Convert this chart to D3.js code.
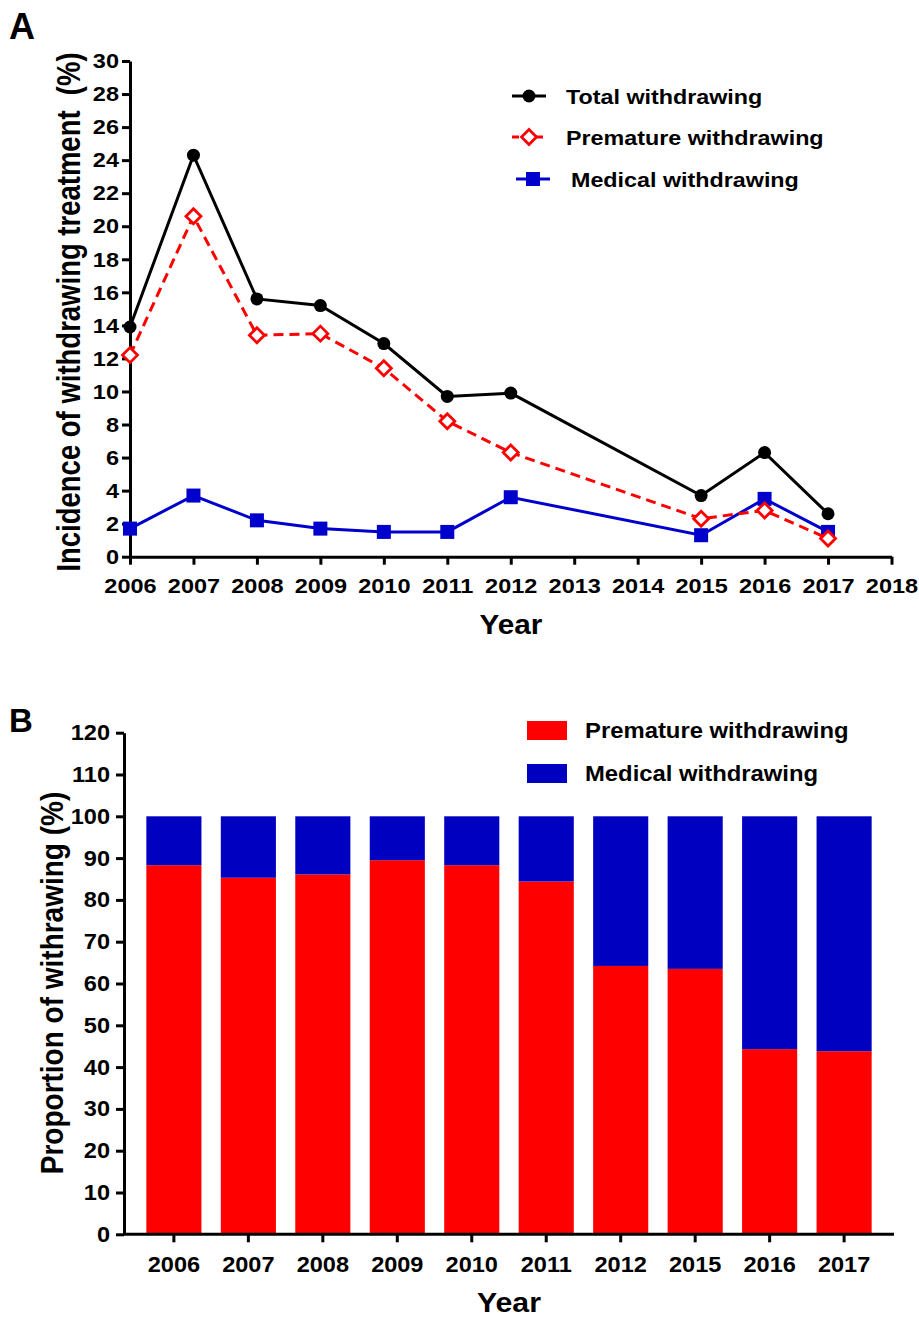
<!DOCTYPE html>
<html>
<head>
<meta charset="utf-8">
<script src="https://cdn.jsdelivr.net/npm/d3@7"></script>
<style>
  body { margin: 0; background: #fff; }
  svg text { font-family: "Liberation Sans", Arial, sans-serif; font-weight: bold; fill: #000; white-space: pre; }
</style>
</head>
<body>
<svg id="chart" width="919" height="1323"></svg>
<script>
// panel A data (incidence, %)
const yearsA = [2006, 2007, 2008, 2009, 2010, 2011, 2012, 2015, 2016, 2017];
const totalW = [13.9, 24.3, 15.6, 15.2, 12.9, 9.7, 9.9, 3.7, 6.3, 2.6];
const prematureW = [12.2, 20.6, 13.4, 13.5, 11.4, 8.2, 6.3, 2.3, 2.8, 1.1];
const medicalW = [1.7, 3.7, 2.2, 1.7, 1.5, 1.5, 3.6, 1.3, 3.5, 1.5];
const tickYearsA = [2006, 2007, 2008, 2009, 2010, 2011, 2012, 2013, 2014, 2015, 2016, 2017, 2018];

// panel B data (proportion, %)
const yearsB = ["2006", "2007", "2008", "2009", "2010", "2011", "2012", "2015", "2016", "2017"];
const prematurePct = [88.3, 85.3, 86.1, 89.5, 88.3, 84.4, 64.2, 63.5, 44.3, 43.8];
const medicalPct = [11.7, 14.7, 13.9, 10.5, 11.7, 15.6, 35.8, 36.5, 55.7, 56.2];

const RED = "#ff0000", BLUE = "#0000c0", BLUE_LINE = "#0000cc";

const svg = d3.select("#chart");

// text with a horizontal stretch, like the original figure
const label = (g, x, y, s, size, sx, anchor, rotate) => g.append("text")
    .attr("transform", `translate(${x},${y}) scale(${sx},1)` + (rotate ? " rotate(-90)" : ""))
    .attr("text-anchor", anchor || "start")
    .attr("font-size", size)
    .text(s);

const styleAxis = (ax, size) => {
    ax.attr("font-size", size).attr("font-family", null);
    ax.select(".domain").attr("stroke", "#000").attr("stroke-width", 3);
    ax.selectAll(".tick line").attr("stroke", "#000").attr("stroke-width", 3);
    ax.selectAll(".tick text").attr("font-size", size).attr("fill", "#000");
};

// ---------------- Panel A ----------------
const x = d3.scaleLinear().domain([2006, 2018]).range([130, 891.5]);
const y = d3.scaleLinear().domain([0, 30]).range([556.7, 61]);

const gA = svg.append("g");

const xAxisA = gA.append("g")
    .attr("transform", `translate(0,${y(0)})`)
    .call(d3.axisBottom(x).tickValues(tickYearsA).tickFormat(d => d).tickSize(8).tickSizeOuter(0));
styleAxis(xAxisA, 21);
xAxisA.selectAll(".tick text").attr("y", 21).attr("dy", "0.72em").attr("transform", "scale(1.12,1)");

const yAxisA = gA.append("g")
    .attr("transform", `translate(${x(2006)},0)`)
    .call(d3.axisLeft(y).tickValues(d3.range(0, 31, 2)).tickSize(8).tickSizeOuter(0));
styleAxis(yAxisA, 21);
yAxisA.selectAll(".tick text").attr("x", -11 / 1.12).attr("transform", "scale(1.12,1)");

const line = d3.line().x(d => x(d.year)).y(d => y(d.value));
const series = [
    { key: "Total withdrawing", values: totalW, color: "#000", dash: null, shape: "circle" },
    { key: "Medical withdrawing", values: medicalW, color: BLUE_LINE, dash: null, shape: "square" },
    { key: "Premature withdrawing", values: prematureW, color: RED, dash: "10,6", shape: "diamond" }
];

const marker = (g, shape, cx, cy, color) => {
    if (shape === "circle") {
        g.append("circle").attr("cx", cx).attr("cy", cy).attr("r", 6.5).attr("fill", "#000");
    } else if (shape === "square") {
        g.append("rect").attr("x", cx - 7).attr("y", cy - 7).attr("width", 14).attr("height", 14).attr("fill", color);
    } else {
        g.append("path")
            .attr("d", `M${cx},${cy - 7.5}L${cx + 7.5},${cy}L${cx},${cy + 7.5}L${cx - 7.5},${cy}Z`)
            .attr("fill", "#fff").attr("stroke", color).attr("stroke-width", 2.8);
    }
};

series.forEach(s => {
    const pts = yearsA.map((yr, i) => ({ year: yr, value: s.values[i] }));
    gA.append("path")
        .datum(pts)
        .attr("d", line)
        .attr("fill", "none")
        .attr("stroke", s.color)
        .attr("stroke-width", 3)
        .attr("stroke-dasharray", s.dash);
    const mg = gA.append("g");
    pts.forEach(p => marker(mg, s.shape, x(p.year), y(p.value), s.color));
});

// legend A
const legA = [
    { s: series[0], y: 96, x0: 512, tx: 566 },
    { s: series[2], y: 137, x0: 512, tx: 566 },
    { s: series[1], y: 179, x0: 516, tx: 571 }
];
legA.forEach(d => {
    gA.append("line")
        .attr("x1", d.x0).attr("x2", d.x0 + 34)
        .attr("y1", d.y).attr("y2", d.y)
        .attr("stroke", d.s.color).attr("stroke-width", 3)
        .attr("stroke-dasharray", d.s.dash ? "7,5" : null);
    marker(gA, d.s.shape, d.x0 + 17, d.y, d.s.color);
    label(gA, d.tx, d.y + 8, d.s.key, 21, 1.11);
});

label(gA, 80, 312, "Incidence of withdrawing treatment  (%)", 27.5, 1.2, "middle", true);
label(gA, 511, 634, "Year", 27, 1.1, "middle");
label(gA, 9, 39, "A", 36, 1.0);

// ---------------- Panel B ----------------
const xb = d3.scaleBand().domain(yearsB).range([124, 894]).paddingInner(0.26).paddingOuter(0.3);
const yb = d3.scaleLinear().domain([0, 120]).range([1234.3, 732.7]);

const gB = svg.append("g");

const stackData = yearsB.map((yr, i) => ({ year: yr, premature: prematurePct[i], medical: medicalPct[i] }));
const stack = d3.stack().keys(["premature", "medical"])(stackData);
const colorB = { premature: RED, medical: BLUE };

gB.selectAll("g.layer")
    .data(stack)
    .enter().append("g")
    .attr("class", "layer")
    .attr("fill", d => colorB[d.key])
    .selectAll("rect")
    .data(d => d)
    .enter().append("rect")
    .attr("x", d => xb(d.data.year))
    .attr("y", d => yb(d[1]))
    .attr("width", xb.bandwidth())
    .attr("height", d => yb(d[0]) - yb(d[1]));

const xAxisB = gB.append("g")
    .attr("transform", `translate(0,${yb(0)})`)
    .call(d3.axisBottom(xb).tickSize(8).tickSizeOuter(0));
styleAxis(xAxisB, 22);
xAxisB.select(".domain").attr("d", `M${124},0H${894}`);
xAxisB.selectAll(".tick text").attr("y", 22).attr("dy", "0.72em").attr("transform", "scale(1.07,1)");

const yAxisB = gB.append("g")
    .attr("transform", `translate(124,0)`)
    .call(d3.axisLeft(yb).tickValues(d3.range(0, 121, 10)).tickSize(8).tickSizeOuter(0));
styleAxis(yAxisB, 22);
yAxisB.selectAll(".tick text").attr("x", -14 / 1.07).attr("transform", "scale(1.07,1)");

// legend B
const legB = [
    { key: "premature", text: "Premature withdrawing", y: 721 },
    { key: "medical", text: "Medical withdrawing", y: 764 }
];
legB.forEach(d => {
    gB.append("rect")
        .attr("x", 527).attr("y", d.y)
        .attr("width", 40).attr("height", 19)
        .attr("fill", colorB[d.key]);
    label(gB, 585, d.y + 17, d.text, 22.5, 1.06);
});

label(gB, 63, 983, "Proportion of withrawing (%)", 28, 1.15, "middle", true);
label(gB, 509, 1312, "Year", 27, 1.12, "middle");
label(gB, 9, 732, "B", 33, 1.0);
</script>
</body>
</html>
